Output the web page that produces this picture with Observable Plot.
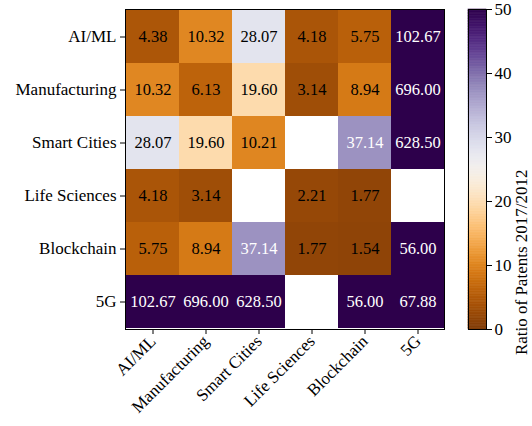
<!DOCTYPE html>
<html>
<head>
<meta charset="utf-8">
<script src="https://cdn.jsdelivr.net/npm/d3@7"></script>
<script src="https://cdn.jsdelivr.net/npm/@observablehq/plot@0.6"></script>
<style>
  html, body { margin: 0; padding: 0; background: white; }
  #wrap { display: flex; width: 532px; height: 426px; }
  #wrap svg, #wrap svg text { font-family: 'Liberation Serif', 'DejaVu Serif', serif !important; }
</style>
</head>
<body>
<div id="wrap"></div>
<script>
const categories = ["AI/ML", "Manufacturing", "Smart Cities", "Life Sciences", "Blockchain", "5G"];
const rowAIML          = [4.38, 10.32, 28.07, 4.18, 5.75, 102.67];
const rowManufacturing = [10.32, 6.13, 19.60, 3.14, 8.94, 696.00];
const rowSmartCities   = [28.07, 19.60, 10.21, null, 37.14, 628.50];
const rowLifeSciences  = [4.18, 3.14, null, 2.21, 1.77, null];
const rowBlockchain    = [5.75, 8.94, 37.14, 1.77, 1.54, 56.00];
const row5G            = [102.67, 696.00, 628.50, null, 56.00, 67.88];
const colorTicks = [0, 10, 20, 30, 40, 50];
const colorLabel = "Ratio of Patents 2017/2012";

const rows = [rowAIML, rowManufacturing, rowSmartCities, rowLifeSciences, rowBlockchain, row5G];
const data = [];
rows.forEach((r, i) => r.forEach((v, j) => {
  if (v != null) data.push({row: categories[i], col: categories[j], value: v});
}));

const font = {fontFamily: "'Liberation Serif', serif", fontSize: "17px", color: "black", background: "white"};
const colorOpts = {type: "linear", scheme: "PuOr", reverse: true, domain: [0, 50], clamp: true};

const main = Plot.plot({
  width: 460, height: 426,
  marginLeft: 125, marginRight: 16, marginTop: 9, marginBottom: 97,
  style: font,
  x: {domain: categories, padding: 0, label: null},
  y: {domain: categories, padding: 0, label: null},
  color: colorOpts,
  marks: [
    Plot.cell(data, {x: "col", y: "row", fill: "value"}),
    Plot.text(data.filter(d => d.value <= 30), {x: "col", y: "row", text: d => d.value.toFixed(2), fill: "black", fontSize: 16.5}),
    Plot.text(data.filter(d => d.value > 30), {x: "col", y: "row", text: d => d.value.toFixed(2), fill: "white", fontSize: 16.5}),
    Plot.axisY({tickSize: 5, tickPadding: 4, label: null}),
    Plot.axisX({tickSize: 5, tickPadding: 4, tickRotate: -45, label: null}),
    Plot.frame({stroke: "black"})
  ]
});

const bands = d3.range(0, 50, 0.25).map(v => ({v0: v, v1: v + 0.25}));
const bar = Plot.plot({
  width: 72, height: 426,
  marginLeft: 8, marginRight: 46, marginTop: 9, marginBottom: 97,
  style: font,
  x: {domain: [0, 1], axis: null},
  y: {domain: [0, 50], label: null},
  color: colorOpts,
  marks: [
    Plot.rect(bands, {x1: 0, x2: 1, y1: "v0", y2: "v1", fill: d => (d.v0 + d.v1) / 2, stroke: d => (d.v0 + d.v1) / 2, strokeWidth: 0.6}),
    Plot.axisY(colorTicks, {anchor: "right", tickSize: 5, tickPadding: 3, label: null}),
    Plot.text([colorLabel], {frameAnchor: "right", rotate: -90, dx: 35}),
    Plot.frame({stroke: "black"})
  ]
});

document.getElementById("wrap").append(main, bar);
</script>
</body>
</html>
